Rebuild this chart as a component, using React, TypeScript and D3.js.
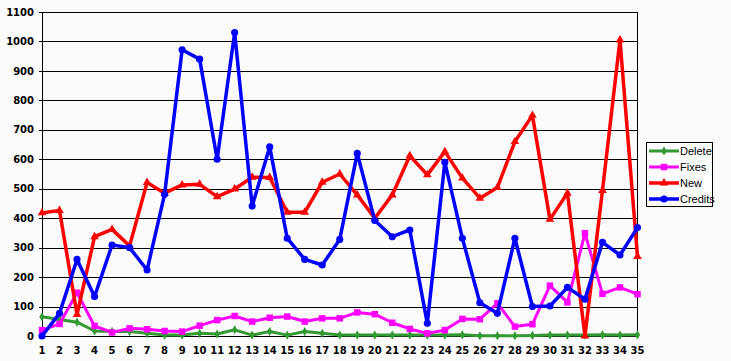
import { scaleLinear, scalePoint, line as d3_line, symbol, symbolDiamond, symbolSquare, symbolTriangle, symbolCircle } from "d3";

const categories = Array.from({ length: 35 }, (_, i) => String(i + 1));
const yTicks = [0, 100, 200, 300, 400, 500, 600, 700, 800, 900, 1000, 1100];

const deleteValues = [65, 56, 47, 17, 15, 15, 9, 3, 3, 9, 7, 21, 3, 15, 3, 15, 9, 3, 3, 3, 3, 3, 3, 3, 4, 1, 1, 1, 2, 3, 3, 3, 4, 3, 4];
const fixesValues = [20, 41, 147, 34, 12, 26, 23, 17, 15, 35, 54, 68, 49, 62, 66, 49, 60, 60, 80, 74, 45, 24, 9, 20, 58, 57, 111, 32, 40, 171, 114, 349, 143, 165, 142];
const newValues = [418, 426, 73, 337, 362, 306, 521, 485, 513, 515, 473, 499, 539, 538, 420, 420, 522, 550, 479, 400, 479, 612, 547, 626, 536, 468, 504, 660, 749, 396, 485, 0, 494, 1005, 270];
const creditsValues = [0, 77, 260, 134, 309, 300, 224, 481, 972, 940, 600, 1030, 441, 642, 332, 260, 241, 328, 620, 392, 337, 360, 43, 590, 332, 113, 77, 332, 100, 102, 165, 125, 318, 275, 368];

const series = [
  { name: "Delete", values: deleteValues, color: "#339933", width: 3, shape: symbolDiamond, size: 24 },
  { name: "Fixes", values: fixesValues, color: "#ff00ff", width: 3, shape: symbolSquare, size: 42 },
  { name: "New", values: newValues, color: "#ff0000", width: 3.5, shape: symbolTriangle, size: 32 },
  { name: "Credits", values: creditsValues, color: "#0000ff", width: 3.5, shape: symbolCircle, size: 40 },
];

const W = 731;
const H = 361;
const left = 42;
const right = 637.5;
const top = 12;
const bottom = 336;

export default function App() {
  const x = scalePoint<string>().domain(categories).range([left, right]);
  const y = scaleLinear().domain([0, 1100]).range([bottom, top]);

  const lineGen = d3_line<number>()
    .x((_, i) => x(categories[i]) ?? 0)
    .y((d) => y(d));

  return (
    <svg
      width={W}
      height={H}
      style={{ position: "fixed", left: 0, top: 0, background: "#fbfbfb" }}
    >
      {/* grid */}
      {yTicks.map((t) => (
        <line key={t} x1={left - 3} x2={right} y1={Math.round(y(t)) + 0.5} y2={Math.round(y(t)) + 0.5} stroke="#000" strokeWidth={1} />
      ))}
      <line x1={left + 0.5} x2={left + 0.5} y1={top} y2={bottom} stroke="#000" />
      <line x1={right} x2={right} y1={top} y2={bottom} stroke="#000" />

      {/* y labels */}
      {yTicks.map((t) => (
        <text key={t} x={34} y={y(t)} dy="0.36em" textAnchor="end" fontFamily="DejaVu Sans" fontWeight="bold" fontSize={10} fill="#000">
          {t}
        </text>
      ))}
      {/* x labels */}
      {categories.map((c) => (
        <text key={c} x={x(c)} y={353.5} textAnchor="middle" fontFamily="DejaVu Sans" fontWeight="bold" fontSize={10} fill="#000">
          {c}
        </text>
      ))}

      {/* series */}
      {series.map((s) => (
        <g key={s.name}>
          <path d={lineGen(s.values) ?? ""} fill="none" stroke={s.color} strokeWidth={s.width} strokeLinejoin="round" />
          {s.values.map((v, i) => (
            <path
              key={i}
              d={symbol(s.shape, s.size)() ?? ""}
              transform={`translate(${x(categories[i])},${y(v)})`}
              fill={s.color}
            />
          ))}
        </g>
      ))}

      {/* legend */}
      <rect x={646.5} y={142.5} width={66} height={64} fill="#fff" stroke="#000" />
      {series.map((s, i) => {
        const ly = 151 + i * 16;
        return (
          <g key={s.name}>
            <line x1={649} x2={679} y1={ly} y2={ly} stroke={s.color} strokeWidth={s.width} />
            <path d={symbol(s.shape, s.size)() ?? ""} transform={`translate(664,${ly})`} fill={s.color} />
            <text x={680} y={ly} dy="0.36em" fontFamily="Liberation Sans" fontSize={11} fill="#000">
              {s.name}
            </text>
          </g>
        );
      })}
    </svg>
  );
}
